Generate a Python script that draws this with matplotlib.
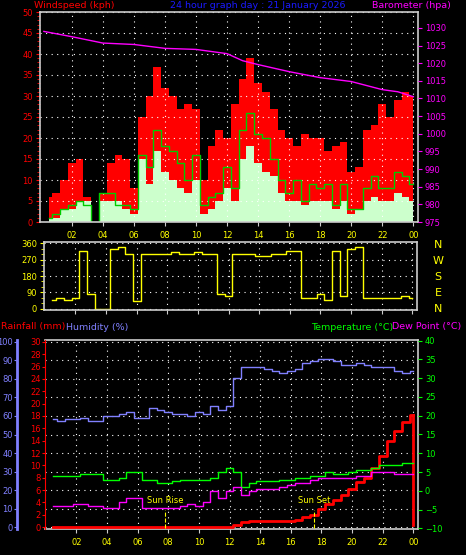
import matplotlib
matplotlib.use("Agg")
import matplotlib.pyplot as plt
import numpy as np

# ---------------------------------------------------------------------------
# Data (30 minute samples, 0.5h .. 24h)
# ---------------------------------------------------------------------------
hours = np.arange(1, 49) * 0.5

gust = [6, 7, 10, 14, 15, 6, 0, 7, 14, 16, 15, 8, 25, 30, 37, 32, 30, 27, 28, 27,
        10, 18, 22, 20, 28, 34, 39, 33, 31, 27, 22, 20, 18, 21, 20, 20, 17, 18, 19, 12,
        13, 22, 23, 28, 25, 29, 31, 30]
avg_speed = [1, 2, 3, 4, 5, 4, 0, 7, 7, 4, 4, 3, 16, 13, 22, 18, 17, 14, 10, 16,
             4, 6, 7, 13, 8, 22, 26, 21, 20, 15, 10, 7, 10, 5, 9, 8, 9, 4, 9, 3,
             3, 8, 11, 8, 8, 12, 11, 9]
lull = [1, 1, 3, 3, 5, 5, 0, 5, 5, 5, 3, 2, 15, 9, 17, 12, 10, 8, 7, 10,
        2, 3, 5, 8, 5, 15, 18, 14, 12, 11, 7, 5, 5, 4, 5, 5, 5, 3, 5, 2,
        3, 5, 6, 5, 5, 7, 6, 5]

baro_hours = [0.2, 2, 4, 6, 8, 10, 12, 13, 14, 16, 18, 20, 22, 23, 24]
baro = [1029, 1027.5, 1025.7, 1025.3, 1024.2, 1023.9, 1022.7, 1020.7, 1019.6,
        1017.6, 1015.9, 1014.8, 1012.5, 1011.9, 1010.5]

direction = [50, 60, 50, 60, 320, 80, 0, 0, 330, 340, 300, 40, 300, 300, 300, 300,
             310, 300, 300, 310, 300, 300, 80, 70, 300, 300, 300, 290, 290, 300, 300, 320,
             320, 60, 60, 80, 50, 320, 70, 330, 340, 60, 60, 60, 60, 60, 70, 60]

humidity = [58, 57, 58, 58, 59, 57, 57, 60, 60, 61, 62, 59, 59, 64, 63, 62, 61, 61, 60, 62,
            61, 65, 63, 65, 80, 86, 86, 86, 85, 84, 83, 84, 85, 88, 89, 90, 90, 89, 87, 87,
            88, 87, 86, 86, 86, 84, 83, 84]
temperature = [4, 4, 4, 4, 4.5, 4.5, 4.5, 3, 3, 3.5, 5, 5, 3, 3, 2, 2, 2.5, 3, 3, 3,
               3, 3.5, 5, 6, 5, 1, 2, 2.5, 2.5, 2.5, 3, 3, 3.5, 3.5, 4, 4, 5, 4.5, 4.5, 5,
               5.5, 5.5, 6, 7, 7, 7, 7.5, 7.5]
dew_point = [-4, -4, -4, -3.5, -3.5, -4, -4, -4.5, -4.5, -3, -2, -2, -4.5, -4.5, -4.5, -4.5,
             -4.5, -4, -3.5, -4, -3, 0, -2, 0, 1, -1, 0, 0.5, 0.5, 0.5, 1, 1.5, 2, 2, 3, 3.5,
             3.5, 3.5, 3.5, 3.5, 4, 4, 5, 5, 5, 4.5, 4.5, 4.5]
rainfall = [0] * 24 + [0.4, 0.8] + [1.0] * 6 + [1.2, 1.6, 1.9, 3.0, 3.7, 4.4, 5.2, 6.2,
                                                 7.3, 8.0, 9.5, 11.5, 14.0, 15.5, 17.0, 18.2]

sun_rise, sun_set = 7.8, 17.5
hour_ticks = list(range(2, 25, 2))
hour_labels = [f"{h % 24:02d}" for h in hour_ticks]

W, H = 466, 555
FS = 6
TS = 6.8


def px_axes(fig, x0, y0, x1, y1):
    return fig.add_axes([x0 / W, 1 - y1 / H, (x1 - x0) / W, (y1 - y0) / H])


def style(ax):
    ax.set_facecolor("black")
    for s in ax.spines.values():
        s.set_color("#cccccc")
        s.set_linewidth(1.2)
    ax.grid(color="white", linestyle=(0, (1, 4)), linewidth=0.8)
    ax.set_xlim(-0.05, 24.3)
    ax.set_xticks(hour_ticks)
    ax.tick_params(axis="x", colors="#cccccc", labelcolor="yellow", labelsize=FS, length=3)
    ax.tick_params(axis="y", length=3, pad=2)


fig = plt.figure(figsize=(W / 100, H / 100), dpi=100, facecolor="black")

# --- wind / barometer -------------------------------------------------------
ax1 = px_axes(fig, 40, 12, 418, 222)
style(ax1)
ax1.fill_between(hours, gust, step="mid", color="red", linewidth=0)
ax1.fill_between(hours, lull, step="mid", color="#ccffcc", linewidth=0)
ax1.step(hours, avg_speed, where="mid", color="#00cc00", linewidth=1)
ax1.set_ylim(0, 50)
ax1.set_yticks(range(0, 51, 5))
ax1.set_yticks(range(0, 51, 1), minor=True)
ax1.tick_params(axis="y", which="both", colors="red", labelsize=FS)
ax1.set_xticklabels(hour_labels)
ax1b = ax1.twinx()
ax1b.plot(baro_hours, baro, color="magenta", linewidth=1)
ax1b.set_ylim(975, 1034.5)
ax1b.set_yticks(range(975, 1031, 5))
ax1b.tick_params(axis="y", colors="magenta", labelsize=FS, length=3, pad=2)
for s in ax1b.spines.values():
    s.set_visible(False)
fig.text(34 / W, 1 - 6 / H, "Windspeed (kph)", color="red", fontsize=TS, va="center")
fig.text(258 / W, 1 - 6 / H, "24 hour graph day : 21 January 2026", color="#1a1aff",
         fontsize=TS, va="center", ha="center")
fig.text(372 / W, 1 - 6 / H, "Barometer (hpa)", color="magenta", fontsize=TS, va="center")

# --- wind direction ---------------------------------------------------------
ax2 = px_axes(fig, 44, 242, 417, 310)
style(ax2)
ax2.step(hours, direction, where="mid", color="yellow", linewidth=1)
ax2.set_ylim(-8, 368)
ax2.set_yticks(range(0, 361, 90))
ax2.set_yticks(range(0, 361, 30), minor=True)
ax2.tick_params(axis="y", which="both", colors="yellow", labelsize=FS)
ax2.tick_params(axis="x", labelbottom=False)
for i, c in enumerate("NWSEN"):
    fig.text(438 / W, 1 - (245 + i * 16) / H, c, color="yellow", fontsize=FS + 2,
             ha="center", va="center")

# --- rain / humidity / temperature ------------------------------------------
ax3 = px_axes(fig, 45, 340, 418, 529)
style(ax3)
ax3.set_ylim(-1, 101)
ax3.set_yticks(range(0, 101, 10))
ax3.tick_params(axis="y", colors="#8080ff", labelsize=FS, length=2, pad=1)
ax3.spines["left"].set_position(("outward", 20))
ax3.spines["left"].set_color("#8080ff")
ax3.spines["left"].set_linewidth(2)
ax3.set_xticklabels(hour_labels)

ax3r = ax3.twinx()
ax3r.yaxis.set_ticks_position("left")
ax3r.set_ylim(-0.3, 30.3)
ax3r.step(hours, rainfall, where="mid", color="red", linewidth=2)
ax3r.plot([24, 24], [rainfall[-1], 0.3], color="red", linewidth=2)
ax3r.set_yticks(range(0, 31, 2))
ax3r.tick_params(axis="y", colors="red", labelsize=FS, length=2, pad=1)
for s in ["top", "right", "bottom"]:
    ax3r.spines[s].set_visible(False)
ax3r.spines["left"].set_color("red")

ax3t = ax3.twinx()
ax3t.set_ylim(-10.2, 40.2)
ax3t.plot(hours, np.array(humidity) / 2 - 10, drawstyle="steps-mid", color="#8080ff", linewidth=1)
ax3t.step(hours, temperature, where="mid", color="#00ff00", linewidth=1)
ax3t.step(hours, dew_point, where="mid", color="magenta", linewidth=1)
for t, name in [(sun_rise, "Sun Rise"), (sun_set, "Sun Set")]:
    ax3t.plot([t, t], [-10, -5], color="yellow", linestyle="--", linewidth=0.8)
    ax3t.text(t, -3.2, name, color="yellow", fontsize=FS, ha="center")
ax3t.set_yticks(range(-10, 41, 5))
ax3t.tick_params(axis="y", colors="#00ff00", labelsize=FS, length=3, pad=2)
for s in ax3t.spines.values():
    s.set_visible(False)

fig.text(1 / W, 1 - 327 / H, "Rainfall (mm)", color="red", fontsize=TS, va="center")
fig.text(66 / W, 1 - 327 / H, "Humidity (%)", color="#8080ff", fontsize=TS, va="center")
fig.text(311 / W, 1 - 327 / H, "Temperature (°C)", color="#00ff00", fontsize=TS, va="center")
fig.text(392 / W, 1 - 327 / H, "Dew Point (°C)", color="magenta", fontsize=TS, va="center")

fig.savefig("out.png", dpi=100, facecolor="black")
